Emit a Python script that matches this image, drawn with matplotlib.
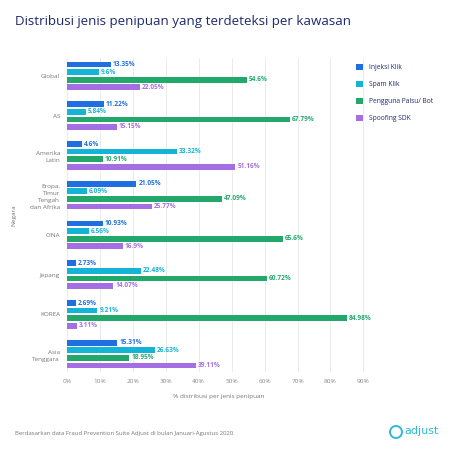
import matplotlib
matplotlib.use("Agg")
import matplotlib.pyplot as plt
import numpy as np
from matplotlib.patches import Circle

plt.rcParams['font.family'] = ['Open Sans', 'DejaVu Sans']

regions = ["Global", "AS", "Amerika\nLatin", "Eropa,\nTimur\nTengah\ndan Afrika",
           "CINA", "Jepang", "KOREA", "Asia\nTenggara"]
series = ["Injeksi Klik", "Spam Klik", "Pengguna Palsu/ Bot", "Spoofing SDK"]
injeksi = [13.35, 11.22, 4.6, 21.05, 10.93, 2.73, 2.69, 15.31]
spam = [9.6, 5.84, 33.32, 6.09, 6.56, 22.48, 9.21, 26.63]
palsu = [54.6, 67.79, 10.91, 47.09, 65.6, 60.72, 84.98, 18.95]
spoofing = [22.05, 15.15, 51.16, 25.77, 16.9, 14.07, 3.11, 39.11]
xticks = [0, 10, 20, 30, 40, 50, 60, 70, 80, 90]
colors = ["#1f6fe0", "#14b4d6", "#22a86b", "#a66ee3"]

fig = plt.figure(figsize=(4.5, 4.5), dpi=100)
ax = fig.add_axes([67/450, 1-372/450, (370-67)/450, (372-58)/450])

y = np.arange(len(regions))
step = 0.19
h = 0.145
for k, (vals, c) in enumerate(zip([injeksi, spam, palsu, spoofing], colors)):
    pos = y + (k - 1.5) * step
    ax.barh(pos, vals, height=h, color=c, label=series[k], zorder=3)
    for p, v in zip(pos, vals):
        ax.text(v + 0.6, p, f"{v:g}%", va='center', ha='left', fontsize=4.7,
                color=c, fontweight='bold', zorder=4)

ax.set_xlim(0, 92)
ax.set_ylim(7.45, -0.45)
ax.set_yticks(y)
ax.set_yticklabels(regions, fontsize=4.6, color='#777777', linespacing=1.5)
ax.set_xticks(xticks)
ax.set_xticklabels([f"{t}%" for t in xticks], fontsize=4.6, color='#888888')
ax.tick_params(length=0, pad=5)
ax.grid(axis='x', color='#e8e8e8', linewidth=0.6, zorder=0)
for s in ax.spines.values():
    s.set_visible(False)
ax.set_xlabel("% distribusi per jenis penipuan", fontsize=4.6, color='#777777', labelpad=7)
ax.set_ylabel("Negara", fontsize=4.6, color='#777777', labelpad=10)

leg = fig.legend(loc='upper left', bbox_to_anchor=(350/450, 1-58/450), frameon=False,
                 fontsize=4.8, handlelength=1.0, handleheight=1.0, labelspacing=1.45,
                 handletextpad=0.9)
for t in leg.get_texts():
    t.set_color('#1e2a6e')

fig.text(15/450, 1-22/450, "Distribusi jenis penipuan yang terdeteksi per kawasan",
         fontsize=9.6, color='#1e2a6e', va='center', ha='left')
fig.text(15/450, 1-433/450,
         "Berdasarkan data Fraud Prevention Suite Adjust di bulan Januari-Agustus 2020.",
         fontsize=4.3, color='#777777', va='center', ha='left')

logo_c = '#2bbbd8'
fig.patches.append(Circle((396/450, 1-432/450), 6/450, transform=fig.transFigure,
                          fill=False, edgecolor=logo_c, linewidth=1.4))
fig.text(404/450, 1-431/450, "adjust", fontsize=8, color=logo_c, va='center',
         ha='left', family=['DejaVu Sans'])

fig.savefig("out.png", dpi=100, facecolor='white')
